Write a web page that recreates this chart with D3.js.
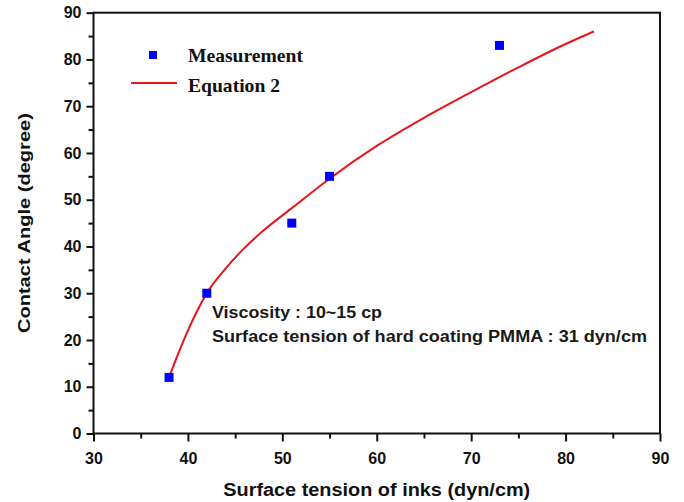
<!DOCTYPE html>
<html>
<head>
<meta charset="utf-8">
<script src="https://cdn.jsdelivr.net/npm/d3@7"></script>
<style>
  body { margin: 0; background: #fff; }
  svg { display: block; }
  .tick text { font-family: Arial, "Liberation Sans", sans-serif; font-weight: bold; font-size: 16px; fill: #111; }
</style>
</head>
<body>
<div id="wrapper"></div>
<script>
// measured points
let measX = [38, 42, 51, 55, 73];
let measY = [12, 30, 45, 55, 83];

// Equation 2 curve
let eqX = [38, 39, 40, 41, 42, 44, 46, 48, 51, 55, 60, 65, 70, 75, 80, 83];
let eqY = [12, 17.2, 22, 26.3, 30, 35.3, 39.7, 43.4, 48.2, 54.5, 61.5, 67.5, 73, 78.3, 83.3, 86];

let xTicks = [30, 40, 50, 60, 70, 80, 90];
let yTicks = [0, 10, 20, 30, 40, 50, 60, 70, 80, 90];

let width = 684, height = 502;
let margin = {left: 93.5, right: 24, top: 12.7, bottom: 68.5};

let svg = d3.select('#wrapper').append('svg')
    .attr('width', width)
    .attr('height', height);

let xScale = d3.scaleLinear().domain([30, 90]).range([margin.left, width - margin.right]);
let yScale = d3.scaleLinear().domain([0, 90]).range([height - margin.bottom, margin.top]);

//// axes ////
let xAxis = d3.axisBottom(xScale).tickValues(xTicks).tickSize(8).tickPadding(11).tickFormat(d3.format('d'));
let xMinor = d3.axisBottom(xScale).tickValues(d3.range(35, 90, 10)).tickSize(5).tickFormat('');
let yAxis = d3.axisLeft(yScale).tickValues(yTicks).tickSize(7).tickPadding(5).tickFormat(d3.format('d'));
let yMinor = d3.axisLeft(yScale).tickValues(d3.range(5, 90, 10)).tickSize(5).tickFormat('');

svg.append('g').attr('transform', 'translate(0,' + yScale(0) + ')').call(xAxis);
svg.append('g').attr('transform', 'translate(0,' + yScale(0) + ')').call(xMinor);
svg.append('g').attr('transform', 'translate(' + xScale(30) + ',0)').call(yAxis);
svg.append('g').attr('transform', 'translate(' + xScale(30) + ',0)').call(yMinor);

svg.selectAll('.domain').remove();
svg.selectAll('.tick line').attr('stroke', '#111').attr('stroke-width', 2);

// frame
svg.append('rect')
    .attr('x', xScale(30)).attr('y', yScale(90))
    .attr('width', xScale(90) - xScale(30))
    .attr('height', yScale(0) - yScale(90))
    .attr('fill', 'none').attr('stroke', '#111').attr('stroke-width', 2);

//// curve ////
let curveData = eqX.map((x, i) => ({x: x, y: eqY[i]}));
let lineGen = d3.line()
    .x(d => xScale(d.x))
    .y(d => yScale(d.y))
    .curve(d3.curveMonotoneX);

svg.append('path')
    .datum(curveData)
    .attr('d', lineGen)
    .attr('fill', 'none')
    .attr('stroke', '#e8141c')
    .attr('stroke-width', 2);

//// measurement squares ////
let s = 9;
svg.selectAll('.meas').data(measX.map((x, i) => ({x: x, y: measY[i]})))
  .enter().append('rect').classed('meas', true)
    .attr('x', d => xScale(d.x) - s / 2)
    .attr('y', d => yScale(d.y) - s / 2)
    .attr('width', s).attr('height', s)
    .attr('fill', '#0000ff');

//// legend ////
let legend = svg.append('g').attr('font-family', '"Liberation Serif", "Times New Roman", serif')
    .attr('font-weight', 'bold').attr('font-size', '19px').attr('fill', '#111');
legend.append('rect').attr('x', 149).attr('y', 51).attr('width', 8).attr('height', 8).attr('fill', '#0000ff');
legend.append('text').attr('x', 188).attr('y', 62).attr('textLength', 115).attr('lengthAdjust', 'spacingAndGlyphs').text('Measurement');
legend.append('line').attr('x1', 131).attr('x2', 177).attr('y1', 83).attr('y2', 83)
    .attr('stroke', '#e8141c').attr('stroke-width', 2);
legend.append('text').attr('x', 188).attr('y', 92).attr('textLength', 92).attr('lengthAdjust', 'spacingAndGlyphs').text('Equation 2');

//// annotation ////
let note = svg.append('g').attr('font-family', 'Arial, "Liberation Sans", sans-serif')
    .attr('font-size', '16px').attr('font-weight', 'bold').attr('fill', '#1a1a1a');
note.append('text').attr('x', 212).attr('y', 318).attr('textLength', 170).attr('lengthAdjust', 'spacingAndGlyphs').text('Viscosity : 10~15 cp');
note.append('text').attr('x', 212).attr('y', 342).attr('textLength', 435).attr('lengthAdjust', 'spacingAndGlyphs').text('Surface tension of hard coating PMMA : 31 dyn/cm');

//// axis titles ////
svg.append('text')
    .attr('x', (xScale(30) + xScale(90)) / 2).attr('y', 496)
    .attr('text-anchor', 'middle')
    .attr('font-family', 'Arial, "Liberation Sans", sans-serif')
    .attr('font-weight', 'bold').attr('font-size', '18px').attr('fill', '#111')
    .attr('textLength', 307).attr('lengthAdjust', 'spacingAndGlyphs')
    .text('Surface tension of inks (dyn/cm)');

svg.append('text')
    .attr('transform', 'translate(30,' + (yScale(0) + yScale(90)) / 2 + ') rotate(-90)')
    .attr('text-anchor', 'middle')
    .attr('font-family', 'Arial, "Liberation Sans", sans-serif')
    .attr('font-weight', 'bold').attr('font-size', '17px').attr('fill', '#111')
    .attr('textLength', 220).attr('lengthAdjust', 'spacingAndGlyphs')
    .text('Contact Angle (degree)');
</script>
</body>
</html>
